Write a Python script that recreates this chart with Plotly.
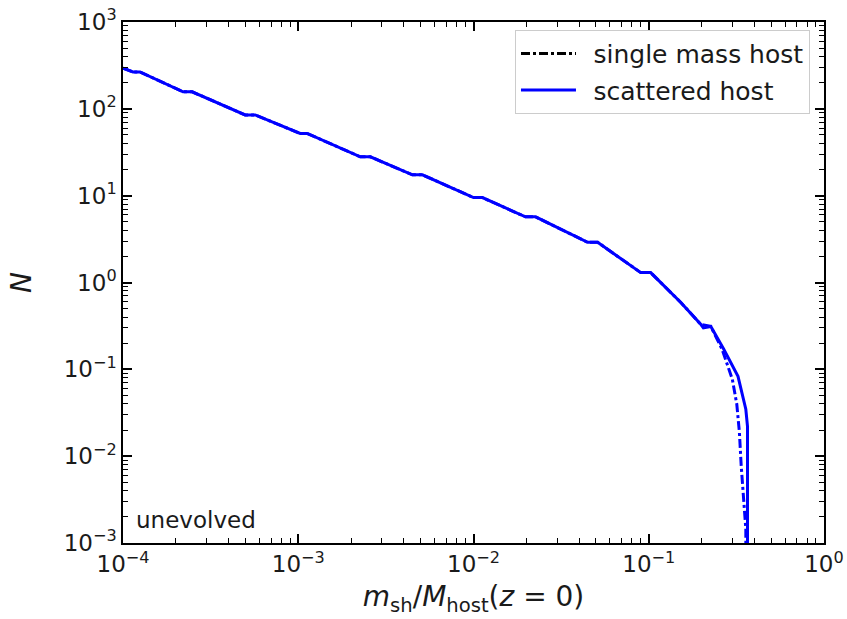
import plotly.graph_objects as go

# Cumulative subhalo mass function, unevolved, at z = 0
# x: m_sh / M_host, y: N(> m_sh)
scatter_x = [1.0e-4, 1.14e-4, 1.25e-4, 2.20e-4, 2.48e-4, 4.98e-4, 5.68e-4,
             1.026e-3, 1.125e-3, 2.26e-3, 2.58e-3, 4.48e-3, 5.11e-3,
             1.0e-2, 1.125e-2, 1.98e-2, 2.26e-2, 4.48e-2, 5.11e-2,
             9.0e-2, 0.1026, 0.1524, 0.198, 0.205, 0.226, 0.268, 0.323,
             0.358, 0.366, 0.366]
scatter_n = [294, 266, 266, 157, 157, 85, 85,
             52, 52, 28, 28, 17.4, 17.4,
             9.5, 9.5, 5.7, 5.7, 2.9, 2.9,
             1.30, 1.30, 0.589, 0.33, 0.30, 0.312, 0.170, 0.083,
             0.0347, 0.0221, 1e-6]

single_x = [1.0e-4, 1.14e-4, 1.25e-4, 2.20e-4, 2.48e-4, 4.98e-4, 5.68e-4,
            1.026e-3, 1.125e-3, 2.26e-3, 2.58e-3, 4.48e-3, 5.11e-3,
            1.0e-2, 1.125e-2, 1.98e-2, 2.26e-2, 4.48e-2, 5.11e-2,
            9.0e-2, 0.1026, 0.1524, 0.198, 0.226, 0.262, 0.300, 0.318,
            0.329, 0.337, 0.349, 0.358, 0.360]
single_n = [294, 266, 266, 157, 157, 85, 85,
            52, 52, 28, 28, 17.4, 17.4,
            9.5, 9.5, 5.7, 5.7, 2.9, 2.9,
            1.30, 1.30, 0.589, 0.329, 0.312, 0.170, 0.0767, 0.0396,
            0.0189, 0.00767, 0.00321, 0.00145, 1e-6]

x_tickvals = [1e-4, 1e-3, 1e-2, 1e-1, 1e0]
x_ticktext = ["10<sup>\u22124</sup>", "10<sup>\u22123</sup>", "10<sup>\u22122</sup>",
              "10<sup>\u22121</sup>", "10<sup>0</sup>"]
y_tickvals = [1e-3, 1e-2, 1e-1, 1e0, 1e1, 1e2, 1e3]
y_ticktext = ["10<sup>\u22123</sup>", "10<sup>\u22122</sup>", "10<sup>\u22121</sup>",
              "10<sup>0</sup>", "10<sup>1</sup>", "10<sup>2</sup>", "10<sup>3</sup>"]

BLUE = "#0000ff"
FONT = "DejaVu Sans"


def minor_ticks(lo, hi):
    # 2..9 x 10^k inside each decade
    return [m * 10.0 ** k for k in range(lo, hi) for m in range(2, 10)]


fig = go.Figure()

# single-mass host curve (drawn in blue, legend proxy in black below)
fig.add_trace(go.Scatter(x=single_x, y=single_n, mode="lines",
                         line=dict(color=BLUE, width=3, dash="dashdot"),
                         showlegend=False, hoverinfo="skip"))
fig.add_trace(go.Scatter(x=scatter_x, y=scatter_n, mode="lines",
                         line=dict(color=BLUE, width=3),
                         showlegend=False))

# legend entries
fig.add_trace(go.Scatter(x=[None], y=[None], mode="lines",
                         name="\u2002single mass host", legendgroup="a",
                         line=dict(color="black", width=3, dash="dashdot")))
fig.add_trace(go.Scatter(x=[None], y=[None], mode="lines",
                         name="\u2002scattered host", legendgroup="b",
                         line=dict(color=BLUE, width=3)))

axis_common = dict(
    type="log", showgrid=False, zeroline=False, automargin=False,
    showline=True, linecolor="black", linewidth=1.5,
    mirror="allticks", ticks="inside", ticklen=9, tickwidth=1.5, tickcolor="black",
    tickfont=dict(family=FONT, size=23, color="#1a1a1a"),
)

minor_style = dict(ticks="inside", ticklen=5, tickwidth=1.3, tickcolor="black",
                   tickmode="array", showgrid=False)

fig.update_xaxes(**axis_common, range=[-4, 0], tickmode="array",
                 tickvals=x_tickvals, ticktext=x_ticktext,
                 minor=dict(**minor_style, tickvals=minor_ticks(-4, 0)),
                 title=dict(text="<i>m</i><sub>sh</sub>/<i>M</i><sub>host</sub>(<i>z</i> = 0)",
                            font=dict(family=FONT, size=28, color="#1a1a1a"), standoff=10))
fig.update_yaxes(**axis_common, range=[-3, 3], tickmode="array",
                 tickvals=y_tickvals, ticktext=y_ticktext,
                 minor=dict(**minor_style, tickvals=minor_ticks(-3, 3)),
                 title=dict(text="<i>N</i>", font=dict(family=FONT, size=28, color="#1a1a1a"),
                            standoff=24))

fig.add_annotation(text="unevolved", xref="paper", yref="paper", x=0.015, y=0.045,
                   xanchor="left", yanchor="middle", showarrow=False,
                   font=dict(family=FONT, size=23, color="#1a1a1a"))

fig.update_layout(
    width=847, height=619,
    margin=dict(l=123, r=23, t=22, b=76),
    paper_bgcolor="white", plot_bgcolor="white",
    font=dict(family=FONT, color="#1a1a1a"),
    legend=dict(x=0.98, y=0.985, xanchor="right", yanchor="top",
                bgcolor="rgba(255,255,255,0.9)", bordercolor="#cccccc", borderwidth=1,
                font=dict(family=FONT, size=25, color="#1a1a1a"), itemwidth=55,
                tracegroupgap=1),
)

fig.write_html("out.html")
